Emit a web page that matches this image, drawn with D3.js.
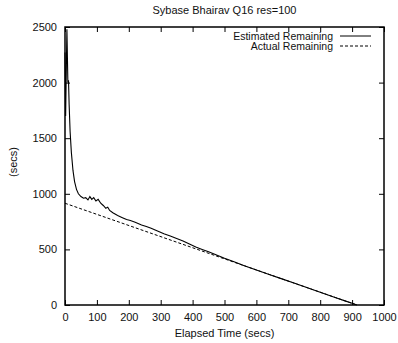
<!DOCTYPE html>
<html>
<head>
<meta charset="utf-8">
<script src="https://cdn.jsdelivr.net/npm/d3@7"></script>
<style>
  body { margin: 0; background: #fff; }
  text { font-family: "Liberation Sans", Arial, sans-serif; }
</style>
</head>
<body>
<div id="chart"></div>
<script>
// datos
const estElapsed = [0, 2, 6, 9, 11, 13, 16, 20, 25, 30, 36, 42, 50, 58, 65, 72, 78, 84, 90, 97, 104, 112, 120, 128, 134, 140, 150, 165, 180, 193, 205, 220, 240, 255, 270, 290, 310, 330, 350, 370, 390, 410, 430, 450, 475, 500, 530, 560, 600, 640, 680, 720, 760, 800, 840, 880, 900, 915];
const estRemaining = [2270, 1700, 2480, 2000, 2020, 1800, 1560, 1370, 1210, 1110, 1040, 1000, 975, 960, 965, 945, 975, 950, 965, 935, 950, 915, 895, 870, 880, 850, 830, 805, 785, 768, 760, 745, 720, 705, 690, 665, 640, 620, 598, 575, 548, 522, 500, 478, 450, 420, 388, 356, 315, 275, 235, 195, 155, 115, 75, 35, 15, 0];
const actElapsed = [0, 915];
const actRemaining = [915, 0];

const xTicks = [0, 100, 200, 300, 400, 500, 600, 700, 800, 900, 1000];
const yTicks = [0, 500, 1000, 1500, 2000, 2500];

const width = 398;
const height = 343;
const margin = { top: 27, right: 14, bottom: 38, left: 65 };
const innerWidth = width - margin.left - margin.right;
const innerHeight = height - margin.top - margin.bottom;

const svg = d3.select("#chart")
  .append("svg")
  .attr("width", width)
  .attr("height", height);

const xScale = d3.scaleLinear().domain([0, 1000]).range([0, innerWidth]);
const yScale = d3.scaleLinear().domain([0, 2500]).range([innerHeight, 0]);

const g = svg.append("g")
  .attr("transform", `translate(${margin.left},${margin.top})`);

// ejes con marcas hacia adentro
const styleAxis = (sel) => {
  sel.select(".domain").remove();
  sel.selectAll("line").attr("stroke", "#000").attr("stroke-width", 1);
  sel.selectAll("text")
    .attr("fill", "#111")
    .style("font-size", "11px");
};

g.append("g")
  .attr("transform", `translate(0,${innerHeight})`)
  .call(d3.axisBottom(xScale).tickValues(xTicks).tickSize(-5).tickPadding(8).tickFormat(d3.format("d")))
  .call(styleAxis);

g.append("g")
  .call(d3.axisTop(xScale).tickValues(xTicks).tickSize(-5).tickFormat(""))
  .call(styleAxis);

g.append("g")
  .call(d3.axisLeft(yScale).tickValues(yTicks).tickSize(-5).tickPadding(8).tickFormat(d3.format("d")))
  .call(styleAxis);

g.append("g")
  .attr("transform", `translate(${innerWidth},0)`)
  .call(d3.axisRight(yScale).tickValues(yTicks).tickSize(-5).tickFormat(""))
  .call(styleAxis);

// marco
g.append("rect")
  .attr("width", innerWidth)
  .attr("height", innerHeight)
  .attr("fill", "none")
  .attr("stroke", "#000")
  .attr("stroke-width", 1.5);

const estData = estElapsed.map((t, i) => [t, estRemaining[i]]);
const actData = actElapsed.map((t, i) => [t, actRemaining[i]]);

const line = d3.line()
  .x((d) => xScale(d[0]))
  .y((d) => yScale(d[1]));

g.append("path")
  .datum(actData)
  .attr("d", line)
  .attr("fill", "none")
  .attr("stroke", "#000")
  .attr("stroke-width", 1)
  .attr("stroke-dasharray", "3,2");

g.append("path")
  .datum(estData)
  .attr("d", line)
  .attr("fill", "none")
  .attr("stroke", "#000")
  .attr("stroke-width", 1.1);

// leyenda
const legend = [
  { label: "Estimated Remaining", dash: null, y: 36 },
  { label: "Actual Remaining", dash: "3,2", y: 46 }
];
legend.forEach((d) => {
  svg.append("text")
    .attr("x", 333)
    .attr("y", d.y)
    .attr("dy", "0.35em")
    .attr("text-anchor", "end")
    .attr("fill", "#111")
    .style("font-size", "10.5px")
    .text(d.label);
  svg.append("line")
    .attr("x1", 340)
    .attr("x2", 371)
    .attr("y1", d.y)
    .attr("y2", d.y)
    .attr("stroke", "#000")
    .attr("stroke-width", 1)
    .attr("stroke-dasharray", d.dash);
});

// titulos
svg.append("text")
  .attr("x", margin.left + innerWidth / 2)
  .attr("y", 14)
  .attr("text-anchor", "middle")
  .attr("fill", "#111")
  .style("font-size", "11px")
  .text("Sybase Bhairav Q16 res=100");

svg.append("text")
  .attr("x", margin.left + innerWidth / 2)
  .attr("y", 337)
  .attr("text-anchor", "middle")
  .attr("fill", "#111")
  .style("font-size", "11px")
  .text("Elapsed Time (secs)");

svg.append("text")
  .attr("transform", "rotate(-90)")
  .attr("x", -162)
  .attr("y", 13)
  .attr("dy", "0.35em")
  .attr("text-anchor", "middle")
  .attr("fill", "#111")
  .style("font-size", "11px")
  .text("(secs)");
</script>
</body>
</html>
